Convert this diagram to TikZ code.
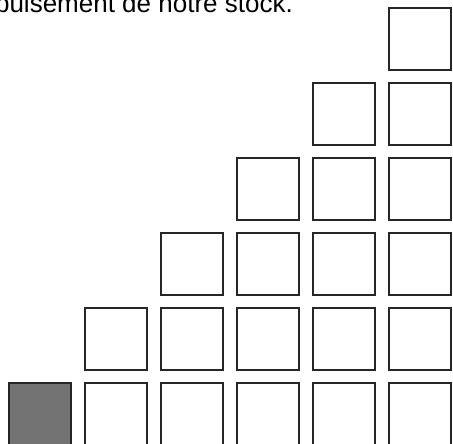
\documentclass[tikz,border=0pt]{standalone}
\usepackage{fontspec}
\setmainfont{Liberation Sans}
\usepackage{xcolor}

\tikzset{
	box/.style={draw=black!85, line width=2.4pt, fill=white},
	fullbox/.style={draw=black!85, line width=2.4pt, fill=black!55},
}

\begin{document}
\begin{tikzpicture}[x=1pt, y=1pt]
					\useasboundingbox (0,0) rectangle (453,444);
					\clip (0,0) rectangle (453,444);
					
					\node[anchor=base east, inner sep=0pt, font=\fontsize{26}{26}\selectfont] (caption) at (293, 431.5) {puisement de notre stock.};
					
					% colonne 1
					\filldraw[fullbox] (9,-1) rectangle ++(62,62);
					
					% colonne 2
					\filldraw[box] (85,-1) rectangle ++(62,62);
					\filldraw[box] (85,74) rectangle ++(62,62);
					
					% colonne 3
					\filldraw[box] (161,-1) rectangle ++(62,62);
					\filldraw[box] (161,74) rectangle ++(62,62);
					\filldraw[box] (161,149) rectangle ++(62,62);
					
					% colonne 4
					\filldraw[box] (237,-1) rectangle ++(62,62);
					\filldraw[box] (237,74) rectangle ++(62,62);
					\filldraw[box] (237,149) rectangle ++(62,62);
					\filldraw[box] (237,224) rectangle ++(62,62);
					
					% colonne 5
					\filldraw[box] (313,-1) rectangle ++(62,62);
					\filldraw[box] (313,74) rectangle ++(62,62);
					\filldraw[box] (313,149) rectangle ++(62,62);
					\filldraw[box] (313,224) rectangle ++(62,62);
					\filldraw[box] (313,299) rectangle ++(62,62);
					
					% colonne 6
					\filldraw[box] (389,-1) rectangle ++(62,62);
					\filldraw[box] (389,74) rectangle ++(62,62);
					\filldraw[box] (389,149) rectangle ++(62,62);
					\filldraw[box] (389,224) rectangle ++(62,62);
					\filldraw[box] (389,299) rectangle ++(62,62);
					\filldraw[box] (389,374) rectangle ++(62,62);
					
				\end{tikzpicture}
\end{document}
